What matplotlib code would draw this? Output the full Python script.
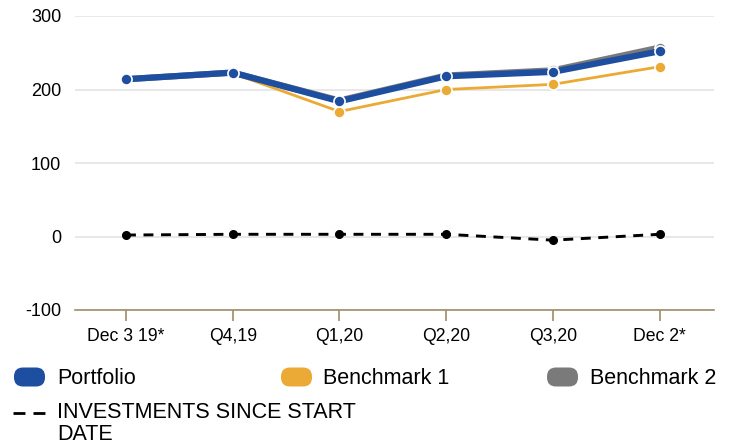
import matplotlib.pyplot as plt
from matplotlib.patches import FancyBboxPatch
from matplotlib.lines import Line2D

plt.rcParams.update({'font.size': 12, 'font.family': 'Liberation Sans',
                     'axes.unicode_minus': False})

categories = ['Dec 3 19*', 'Q4,19', 'Q1,20', 'Q2,20', 'Q3,20', 'Dec 2*']
portfolio = [214, 223, 184, 218, 224, 252]
benchmark1 = [214, 222, 170, 200, 207, 231]
benchmark2 = [214, 223, 185, 219, 226, 257]
investments = [2, 3, 3, 3, -5, 3]

c_blue = '#1d4e9f'
c_orange = '#ebaa35'
c_gray = '#7a7a7a'
c_axis = '#a08c6a'

fig = plt.figure(figsize=(7.38, 4.47), dpi=100)
ax = fig.add_axes([75 / 738, 1 - 310 / 447, (714 - 75) / 738, (310 - 16) / 447])

x = list(range(len(categories)))

ax.plot(x, benchmark2, color=c_gray, linewidth=4.5, marker='o', markersize=8,
        markeredgecolor='white', markeredgewidth=1.2, zorder=3)
ax.plot(x, benchmark1, color=c_orange, linewidth=2, marker='o', markersize=8,
        markeredgecolor='white', markeredgewidth=1.2, zorder=4)
ax.plot(x, portfolio, color=c_blue, linewidth=4.5, marker='o', markersize=8,
        markeredgecolor='white', markeredgewidth=1.2, zorder=5)
ax.plot(x, investments, color='black', linewidth=2.1, linestyle=(0, (3.4, 2.6)),
        marker='o', markersize=5.5, zorder=5)

ax.set_ylim(-100, 300)
ax.set_xlim(-0.478, 5.51)
ax.set_yticks([-100, 0, 100, 200, 300])
ax.set_xticks(x)
ax.set_xticklabels(categories)

ax.grid(axis='y', color='#e6e6e6', linewidth=1.3)
ax.set_axisbelow(True)
for s in ['top', 'right', 'left']:
    ax.spines[s].set_visible(False)
ax.spines['bottom'].set_color(c_axis)
ax.spines['bottom'].set_linewidth(1.2)
ax.tick_params(axis='x', color=c_axis, length=8, width=1.2, pad=5, labelsize=12.7)
ax.tick_params(axis='y', length=0, pad=10, labelsize=13)

# legend, positions in pixels (dpi 100 -> inches = px / 100)
H = 4.47


def pill(xp, yc, color):
    p = FancyBboxPatch((xp / 100, H - (yc + 9.5) / 100), 31 / 100, 19 / 100,
                       boxstyle='round,pad=0,rounding_size=0.09',
                       transform=fig.dpi_scale_trans,
                       facecolor=color, edgecolor='none')
    fig.patches.append(p)


legend_items = [('Portfolio', c_blue, 14, 57), ('Benchmark 1', c_orange, 281, 323),
                ('Benchmark 2', c_gray, 547, 590)]
for name, col, px, tx in legend_items:
    pill(px, 377, col)
    fig.text(tx / 738, 1 - 378 / 447, name, fontsize=15.5, va='center', ha='left')

fig.lines.append(Line2D([13 / 738, 46 / 738], [1 - 413 / 447, 1 - 413 / 447],
                        transform=fig.transFigure, color='black', linewidth=2,
                        linestyle=(0, (4.3, 2.9))))
fig.text(57 / 738, 1 - 413 / 447, 'INVESTMENTS SINCE START', fontsize=15.5,
         va='center', ha='left')
fig.text(57 / 738, 1 - 435 / 447, 'DATE', fontsize=15.5, va='center', ha='left')

fig.savefig('out.png', dpi=100)
